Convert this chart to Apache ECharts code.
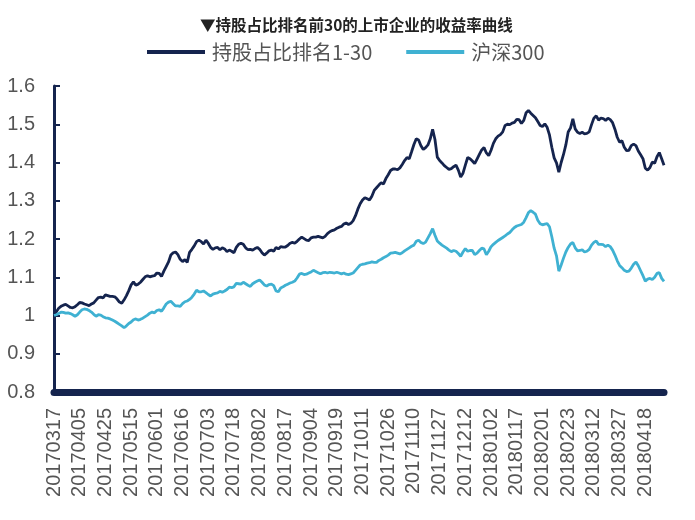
<!DOCTYPE html>
<html>
<head>
<meta charset="utf-8">
<script src="https://cdn.jsdelivr.net/npm/echarts@6/dist/echarts.min.js"></script>
<style>html,body{margin:0;padding:0;background:#fff}#c{width:695px;height:520px}</style>
</head>
<body>
<div id="c"></div>
<script>
var titleText = '▼持股占比排名前30的上市企业的收益率曲线';
var seriesNames = ['持股占比排名1-30', '沪深300'];
var tickLabels = ['20170317','20170405','20170425','20170515','20170601','20170616','20170703','20170718','20170802','20170817','20170904','20170919','20171011','20171026','20171110','20171127','20171212','20180102','20180117','20180201','20180223','20180312','20180327','20180418'];
var daysPerLabel = 11;
var yTicks = [0.8, 0.9, 1.0, 1.1, 1.2, 1.3, 1.4, 1.5, 1.6];

var top30 = [
1.000,1.010,1.019,1.024,1.027,1.029,1.025,1.021,1.020,1.023,1.028,
1.034,1.033,1.030,1.028,1.026,1.030,1.033,1.040,1.047,1.048,1.046,
1.054,1.052,1.050,1.050,1.049,1.043,1.035,1.032,1.041,1.052,1.065,
1.080,1.088,1.079,1.082,1.087,1.094,1.101,1.104,1.101,1.103,1.104,
1.111,1.110,1.102,1.116,1.128,1.140,1.158,1.164,1.166,1.159,1.147,
1.141,1.146,1.139,1.165,1.173,1.182,1.193,1.197,1.193,1.187,1.197,
1.189,1.178,1.173,1.177,1.178,1.172,1.177,1.174,1.167,1.171,1.168,
1.164,1.178,1.186,1.189,1.186,1.177,1.172,1.173,1.171,1.175,1.178,
1.173,1.164,1.158,1.163,1.169,1.171,1.168,1.178,1.174,1.180,1.179,
1.179,1.183,1.189,1.191,1.189,1.194,1.200,1.205,1.201,1.197,1.196,
1.203,1.205,1.205,1.207,1.205,1.203,1.207,1.214,1.219,1.222,1.224,
1.228,1.231,1.233,1.239,1.242,1.238,1.241,1.248,1.261,1.278,1.292,
1.302,1.308,1.305,1.302,1.312,1.327,1.334,1.341,1.347,1.344,1.358,
1.368,1.379,1.383,1.383,1.381,1.386,1.395,1.405,1.413,1.410,1.428,
1.447,1.462,1.459,1.444,1.434,1.439,1.446,1.462,1.487,1.460,1.414,
1.405,1.399,1.392,1.387,1.382,1.384,1.389,1.393,1.380,1.362,1.372,
1.393,1.413,1.410,1.404,1.397,1.409,1.421,1.433,1.439,1.425,1.418,
1.432,1.450,1.462,1.469,1.473,1.480,1.497,1.500,1.499,1.503,1.505,
1.513,1.512,1.502,1.510,1.530,1.536,1.529,1.523,1.517,1.507,1.497,
1.494,1.501,1.492,1.472,1.440,1.412,1.399,1.375,1.400,1.421,1.446,
1.480,1.490,1.514,1.488,1.479,1.476,1.479,1.475,1.476,1.480,1.499,
1.516,1.522,1.511,1.516,1.515,1.510,1.516,1.512,1.504,1.487,1.466,
1.453,1.457,1.440,1.431,1.432,1.444,1.448,1.444,1.430,1.420,1.410,
1.385,1.380,1.387,1.401,1.398,1.415,1.426,1.410,1.393
];

var hs300 = [
1.000,1.002,1.005,1.009,1.008,1.006,1.007,1.005,1.002,0.998,1.002,
1.009,1.015,1.017,1.016,1.013,1.009,1.003,0.998,1.002,1.001,0.997,
0.994,0.993,0.991,0.988,0.985,0.981,0.977,0.973,0.968,0.973,0.979,
0.983,0.989,0.991,0.988,0.990,0.993,0.997,1.001,1.006,1.009,1.007,
1.013,1.015,1.011,1.020,1.030,1.035,1.037,1.031,1.025,1.025,1.024,
1.031,1.036,1.038,1.042,1.048,1.056,1.066,1.062,1.062,1.064,1.060,
1.055,1.051,1.056,1.058,1.059,1.063,1.061,1.064,1.068,1.074,1.073,
1.075,1.084,1.083,1.082,1.087,1.083,1.079,1.076,1.083,1.087,1.090,
1.093,1.087,1.080,1.077,1.081,1.082,1.078,1.064,1.062,1.072,1.075,
1.079,1.082,1.085,1.087,1.090,1.098,1.108,1.110,1.107,1.108,1.111,
1.114,1.118,1.115,1.112,1.109,1.112,1.113,1.111,1.113,1.112,1.111,
1.113,1.111,1.109,1.111,1.108,1.107,1.109,1.111,1.118,1.125,1.132,
1.134,1.135,1.137,1.138,1.140,1.139,1.139,1.144,1.147,1.151,1.154,
1.158,1.163,1.164,1.165,1.163,1.161,1.164,1.169,1.173,1.177,1.181,
1.184,1.194,1.197,1.191,1.188,1.192,1.203,1.214,1.227,1.210,1.195,
1.189,1.184,1.180,1.176,1.171,1.167,1.170,1.168,1.162,1.155,1.166,
1.175,1.168,1.170,1.170,1.159,1.163,1.170,1.176,1.174,1.159,1.168,
1.180,1.186,1.191,1.196,1.200,1.204,1.208,1.213,1.217,1.224,1.230,
1.234,1.236,1.238,1.244,1.256,1.269,1.274,1.270,1.265,1.249,1.240,
1.237,1.239,1.240,1.232,1.206,1.176,1.156,1.116,1.132,1.150,1.166,
1.178,1.187,1.191,1.177,1.169,1.170,1.172,1.166,1.168,1.173,1.184,
1.191,1.195,1.186,1.186,1.185,1.180,1.184,1.180,1.171,1.158,1.143,
1.131,1.125,1.118,1.115,1.116,1.124,1.134,1.140,1.130,1.117,1.104,
1.090,1.095,1.097,1.094,1.100,1.110,1.112,1.097,1.089
];

// category axis: labelled dates every 11 trading days, other days keyed by position
var categories = top30.map(function (_, i) {
  var k = Math.floor(i / daysPerLabel), j = i % daysPerLabel;
  return j === 0 ? tickLabels[k] : tickLabels[k] + '+' + j;
});

var navy = '#15244e';
var cyan = '#3fb1d2';
var labelColor = '#555555';

var chart = echarts.init(document.getElementById('c'), null, {renderer: 'canvas'});
chart.setOption({
  animation: false,
  backgroundColor: '#ffffff',
  title: {
    text: titleText,
    left: 200, top: 16,
    padding: 0,
    textStyle: {fontSize: 15.5, fontWeight: 'bold', color: '#222', fontFamily: 'Noto Sans CJK SC', lineHeight: 18}
  },
  legend: {
    left: 147, top: 42,
    padding: 0,
    itemWidth: 58, itemHeight: 4, itemGap: 34,
    icon: 'rect',
    textStyle: {fontSize: 20, color: labelColor, fontFamily: 'Noto Sans CJK SC', padding: [0, 0, 0, 2]},
    data: seriesNames
  },
  grid: {left: 54, right: 31, top: 86, bottom: 128, containLabel: false},
  xAxis: {
    type: 'category',
    data: categories,
    boundaryGap: false,
    axisLine: {lineStyle: {color: navy, width: 7}},
    axisTick: {show: false},
    axisLabel: {
      interval: function (index) { return index % daysPerLabel === 0; },
      rotate: 90,
      margin: 16,
      fontSize: 20,
      color: labelColor,
      fontFamily: 'Liberation Sans'
    },
    splitLine: {show: false}
  },
  yAxis: {
    type: 'value',
    min: yTicks[0], max: yTicks[yTicks.length - 1], interval: 0.1,
    axisLine: {show: true, lineStyle: {color: navy, width: 3}},
    axisTick: {show: true, inside: true, length: 6, lineStyle: {color: navy, width: 2}},
    axisLabel: {margin: 19, fontSize: 20, color: labelColor, fontFamily: 'Liberation Sans'},
    splitLine: {show: false}
  },
  series: [
    {name: seriesNames[0], type: 'line', data: top30, symbol: 'none', color: navy,
     lineStyle: {width: 2.8, color: navy}},
    {name: seriesNames[1], type: 'line', data: hs300, symbol: 'none', color: cyan,
     lineStyle: {width: 2.8, color: cyan}}
  ]
});
</script>
</body>
</html>
